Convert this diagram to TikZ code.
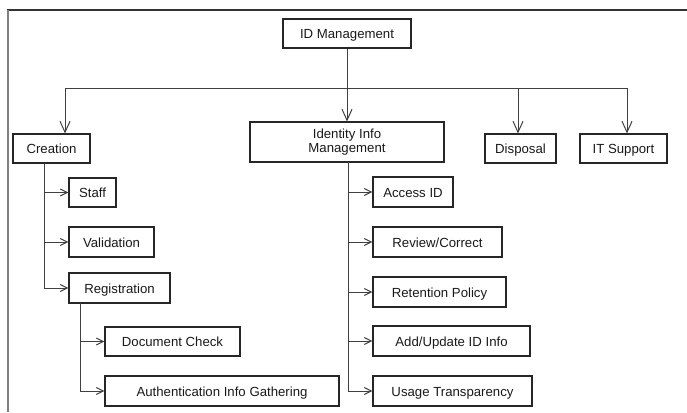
\documentclass[tikz,border=0pt]{standalone}
\usepackage{fontspec}
\setmainfont{Liberation Sans}
\usetikzlibrary{arrows.meta,calc}
\begin{document}
\begin{tikzpicture}[x=1pt,y=-1pt,
  bx/.style={draw=black!85,line width=1.1pt,inner sep=0pt,text=black!90,font=\fontsize{13.2}{14.5}\selectfont,align=center,text height=1em,text depth=0em},
  ln/.style={draw=black!75,line width=1pt},
  darr/.style={ln,-{Straight Barb[length=11pt,width=10pt,line width=1pt]}},
  sarr/.style={ln,-{Straight Barb[length=7pt,width=7pt,line width=1pt]}}]
\useasboundingbox (0,0) rectangle (687,412);
% frame
\draw[black!80,line width=1.4pt] (7,10) -- (687,10);
\draw[black!50,line width=2.2pt] (8,10) -- (8,412);
% boxes
\node[bx,minimum width=128pt,minimum height=29pt] (idm) at (347,33.5) {ID Management};
\node[bx,minimum width=77pt,minimum height=29pt] (cre) at (51.5,148.5) {Creation};
\node[bx,minimum width=194pt,minimum height=40pt,text height=,text depth=] (iim) at (347,142) {Identity Info\\Management};
\node[bx,minimum width=71pt,minimum height=29pt] (dis) at (520.5,148.5) {Disposal};
\node[bx,minimum width=87pt,minimum height=29pt] (its) at (623.5,148.5) {IT Support};
\node[bx,minimum width=47pt,minimum height=29pt] (sta) at (92.5,192.5) {Staff};
\node[bx,minimum width=85pt,minimum height=30pt] (val) at (111.5,242) {Validation};
\node[bx,minimum width=101pt,minimum height=30pt] (reg) at (119.5,288) {Registration};
\node[bx,minimum width=135pt,minimum height=29pt] (doc) at (172.5,341.5) {Document Check};
\node[bx,minimum width=234pt,minimum height=30pt] (aut) at (222,391) {Authentication Info Gathering};
\node[bx,minimum width=80pt,minimum height=30pt] (acc) at (413,192) {Access ID};
\node[bx,minimum width=129pt,minimum height=30pt] (rev) at (437.5,242) {Review/Correct};
\node[bx,minimum width=133pt,minimum height=30pt] (ret) at (439.5,292) {Retention Policy};
\node[bx,minimum width=157pt,minimum height=30pt] (add) at (451.5,341) {Add/Update ID Info};
\node[bx,minimum width=159pt,minimum height=30pt] (usa) at (452.5,391) {Usage Transparency};
% connectors top
\coordinate (hl) at (65,88);
\coordinate (hr) at (627,88);
\coordinate (hd) at (518,88);
\draw[ln] (hl) -- (hr);
\draw[darr] (idm.south) -- (iim.north);
\draw[darr] (hl) -- (hl |- cre.north);
\draw[darr] (hd) -- (hd |- dis.north);
\draw[darr] (hr) -- (hr |- its.north);
% creation branch
\coordinate (ct) at (44,163);
\draw[sarr] (ct) |- (reg.west);
\draw[sarr] (ct |- sta.west) -- (sta.west);
\draw[sarr] (ct |- val.west) -- (val.west);
% registration branch
\coordinate (rt) at (80,303);
\draw[sarr] (rt) |- (aut.west);
\draw[sarr] (rt |- doc.west) -- (doc.west);
% identity branch
\coordinate (it) at (348,162);
\draw[sarr] (it) |- (usa.west);
\draw[sarr] (it |- acc.west) -- (acc.west);
\draw[sarr] (it |- rev.west) -- (rev.west);
\draw[sarr] (it |- ret.west) -- (ret.west);
\draw[sarr] (it |- add.west) -- (add.west);
\end{tikzpicture}
\end{document}
